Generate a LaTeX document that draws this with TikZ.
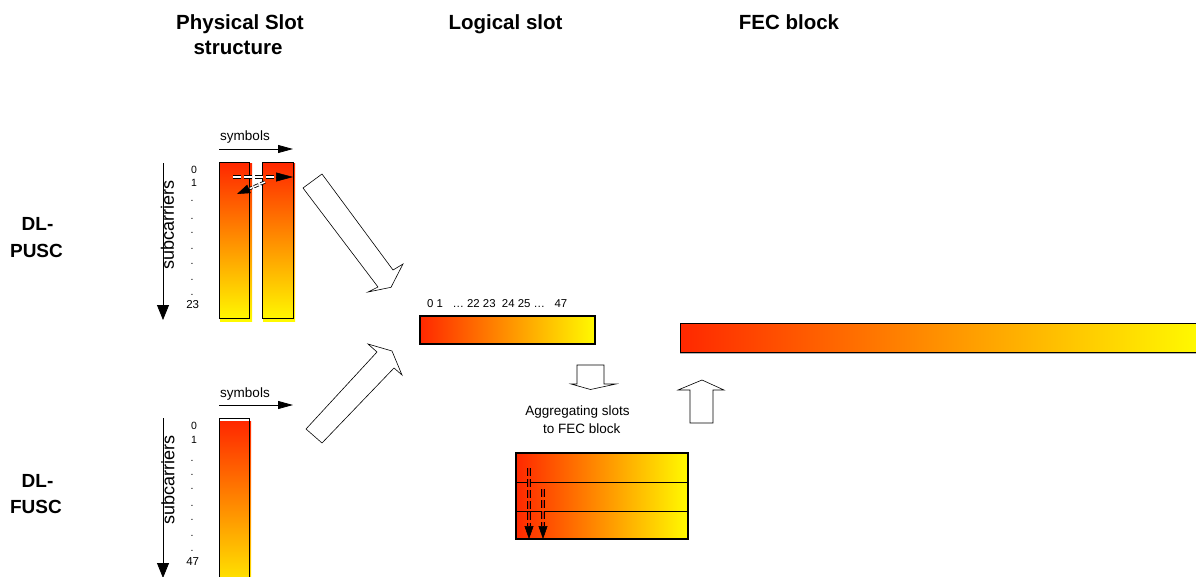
\documentclass[tikz,border=0pt]{standalone}
\usepackage{fontspec}
\setmainfont{Liberation Sans}
\usetikzlibrary{arrows.meta,calc}
\definecolor{slotred}{RGB}{255,40,0}
\definecolor{slotyellow}{RGB}{255,250,0}
\begin{document}
\begin{tikzpicture}[x=1pt,y=-1pt,
  txt/.style={inner sep=0pt,anchor=base,text=black},
  title/.style={txt,font=\fontsize{20.5}{25}\selectfont\bfseries},
  mode/.style={txt,font=\fontsize{19}{26}\selectfont\bfseries},
  small/.style={txt,font=\fontsize{13.5}{16}\selectfont},
  num/.style={txt,font=\fontsize{10.5}{12}\selectfont},
  lnum/.style={txt,font=\fontsize{11.5}{13}\selectfont},
  snum/.style={inner sep=0pt,anchor=base west,text=black,font=\fontsize{11.4}{13}\selectfont},
  vshade/.style={top color=slotred,bottom color=slotyellow},
  hshade/.style={left color=slotred,right color=slotyellow},
  outline/.style={draw=black,line width=0.6pt},
  thick outline/.style={draw=black,line width=1.2pt},
  plainarrow/.style={draw=black,line width=0.8pt,-{Triangle[length=15pt,width=8pt]}},
  subarrow/.style={draw=black,line width=0.8pt,-{Triangle[length=15pt,width=12pt]}},
  hollowdash/.style={draw=black,line width=0.85pt,double=#1,double distance=1.5pt,dash pattern=on 8pt off 3pt},
  soliddtip/.style={draw=black,line width=0.5pt,-{Triangle[length=13pt,width=9pt]}},
  blockarrow/.style={draw=black,line width=0.6pt,fill=white,line join=miter}
]
\useasboundingbox (0,0) rectangle (1196,576);

% ---------- titles ----------
\node[title] (tpa) at (240,29) {Physical Slot};
\node[title] (tpb) at (238,54) {structure};
\node[title] (tls) at (505.5,29) {Logical slot};
\node[title] (tfec) at (789,29) {FEC block};

% ---------- mode labels ----------
\node[mode] (pusca) at (37.5,230) {DL-};
\node[mode] (puscb) at (36.5,257) {PUSC};
\node[mode] (fusca) at (37.5,487) {DL-};
\node[mode] (fuscb) at (36,513) {FUSC};

% ---------- PUSC physical slot ----------
\node[small] (symp) at (245,140) {symbols};
\coordinate (sympa) at (219,149);
\coordinate (sympb) at (293,149);
\draw[plainarrow] (sympa) -- (sympb);

\coordinate (subpa) at (163,163);
\coordinate (subpb) at (163,320);
\draw[subarrow] (subpa) -- (subpb);
\node[inner sep=0pt,rotate=90,font=\fontsize{18}{20}\selectfont] (subp) at (167.5,225) {subcarriers};

\shade[vshade] (220,163) rectangle (252,321);
\shade[vshade] (263,163) rectangle (295,321);
\draw[outline] (219,162) rectangle (249,318);
\draw[outline] (262,162) rectangle (293,318);

\node[num] (p0) at (194,173) {0};
\node[num] (p1) at (194,186.7) {1};
\foreach \yy [count=\i] in {201,219,233,249,264,280,295}
  \node[num] (pd\i) at (192,\yy) {.};
\node[lnum] (p23) at (192.7,308) {23};

% dashed arrows inside the slot
\coordinate (ha) at (233,177);
\coordinate (hb) at (276,177);
\coordinate (hc) at (293,177);
\draw[hollowdash=white] (ha) -- (hb);
\draw[soliddtip,-{Triangle[length=17pt,width=9pt]}] (hb) -- (hc);
\coordinate (da) at (265,182);
\coordinate (dc) at (237,194);
\coordinate (db) at ($(da)!0.55!(dc)$);
\draw[hollowdash=white,dash pattern=on 5pt off 2pt] (da) -- (db);
\draw[soliddtip,-{Triangle[length=13pt,width=9pt]}] (db) -- (dc);

% ---------- FUSC physical slot ----------
\node[small] (symf) at (245,397) {symbols};
\coordinate (symfa) at (219,405);
\coordinate (symfb) at (293,405);
\draw[plainarrow] (symfa) -- (symfb);

\coordinate (subfa) at (163,418);
\coordinate (subfb) at (163,578);
\draw[subarrow] (subfa) -- (subfb);
\node[inner sep=0pt,rotate=90,font=\fontsize{18}{20}\selectfont] (subf) at (168,480) {subcarriers};

\shade[vshade] (220,421) rectangle (251,600);
\draw[outline] (219,418) rectangle (249,600);

\node[num] (f0) at (194,429.5) {0};
\node[num] (f1) at (194,443.5) {1};
\foreach \yy [count=\i] in {461,475,489,506,520,536,551}
  \node[num] (fd\i) at (192,\yy) {.};
\node[lnum] (f47) at (192.7,565) {47};

% ---------- big hollow arrows ----------
\draw[blockarrow] (303,188) -- (378,287) -- (368,292) -- (391,287.3) -- (403,264) -- (393,270) -- (322,174) -- cycle;
\draw[blockarrow] (306,429) -- (377,352) -- (368,344) -- (392,351) -- (402,375) -- (394,368) -- (322,443) -- cycle;

% ---------- logical slot ----------
\node[snum] (lnum) at (427,307) {0 1\ \ \ \dots\ 22 23\ \ 24 25 \dots\ \ \ 47};
\shade[hshade] (420,316) rectangle (595,344);
\draw[thick outline] (420,316) rectangle (595,344);

% ---------- FEC block ----------
\draw[gray!60,line width=1pt] (680,353.5) -- (1196,353.5);
\shade[hshade] (680,323) rectangle (1200,352);
\draw[draw=black,line width=0.8pt] (680,323) rectangle (1200,352);

% ---------- small hollow arrows ----------
\draw[blockarrow] (577,365) -- (604,365) -- (604,384) -- (616,384) -- (590.5,389.5) -- (571,384) -- (577,384) -- cycle;
\draw[blockarrow] (690,423) -- (713,423) -- (713,390) -- (724,390) -- (702,380) -- (678,390) -- (690,390) -- cycle;

\node[small] (agga) at (577.5,415) {Aggregating slots};
\node[small] (aggb) at (581.7,433) {to FEC block};

% ---------- aggregated block ----------
\shade[hshade] (516,453) rectangle (688,539);
\draw[thick outline] (516,453) rectangle (688,539);
\coordinate (r1a) at (516,482);
\coordinate (r1b) at (688,482);
\coordinate (r2a) at (516,511);
\coordinate (r2b) at (688,511);
\draw[outline,line width=1pt] (r1a) -- (r1b);
\draw[outline,line width=1pt] (r2a) -- (r2b);

\coordinate (aa) at (529,468);
\coordinate (ab) at (529,526);
\coordinate (ac) at (529,539);
\draw[hollowdash=slotred!85!black] (aa) -- (ab);
\draw[soliddtip] (ab) -- (ac);
\coordinate (ba) at (543,489);
\coordinate (bb) at (543,526);
\coordinate (bc) at (543,539);
\draw[hollowdash=slotred!85!black] (ba) -- (bb);
\draw[soliddtip] (bb) -- (bc);
\end{tikzpicture}
\end{document}
